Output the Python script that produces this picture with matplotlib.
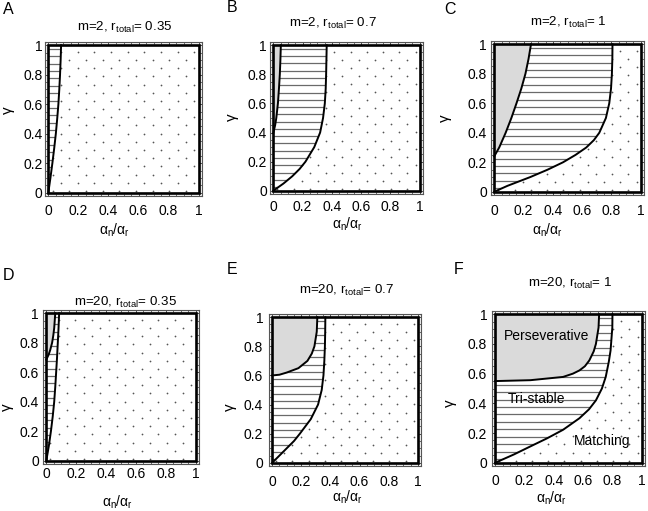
import numpy as np
import matplotlib
matplotlib.use("Agg")
import matplotlib.pyplot as plt
from matplotlib.patches import Polygon, Rectangle
from matplotlib.ticker import MultipleLocator

plt.rcParams['font.family'] = ['Liberation Sans', 'DejaVu Sans']
plt.rcParams['mathtext.fontset'] = 'custom'
plt.rcParams['mathtext.rm'] = 'Liberation Sans'
plt.rcParams['mathtext.it'] = 'Liberation Sans:italic'

# ---- data: boundary curves, (gamma, alpha_n/alpha_r) pairs ----
# g1: perseverative / tri-stable boundary ; g2: tri-stable / matching boundary
A_g1_gamma = []
A_g1_x = []
A_g2_gamma = [0.0, 0.1, 0.2, 0.3, 0.4, 0.5, 0.6, 0.7, 0.8, 0.9, 1.0]
A_g2_x = [0.0, 0.014, 0.027, 0.039, 0.05, 0.059, 0.067, 0.073, 0.078, 0.082, 0.085]

B_g1_gamma = [0.395, 0.45, 0.5, 0.6, 0.7, 0.8, 0.9, 1.0]
B_g1_x = [0.0, 0.013, 0.021, 0.032, 0.039, 0.045, 0.049, 0.052]
B_g2_gamma = [0.0, 0.05, 0.1, 0.15, 0.2, 0.3, 0.4, 0.5, 0.6, 0.7, 0.8, 0.9, 1.0]
B_g2_x = [0.0, 0.07, 0.13, 0.18, 0.22, 0.28, 0.32, 0.34, 0.352, 0.358, 0.361, 0.363, 0.365]

C_g1_gamma = [0.24, 0.3, 0.4, 0.5, 0.6, 0.7, 0.8, 0.9, 1.0]
C_g1_x = [0.0, 0.034, 0.078, 0.117, 0.152, 0.185, 0.213, 0.234, 0.251]
C_g2_gamma = [0.0, 0.04, 0.1, 0.15, 0.2, 0.25, 0.3, 0.35, 0.4, 0.5, 0.6, 0.7, 0.8, 0.9, 1.0]
C_g2_x = [0.0, 0.09, 0.247, 0.365, 0.47, 0.555, 0.628, 0.68, 0.717, 0.762, 0.785, 0.797, 0.803, 0.806, 0.807]

D_g1_gamma = [0.685, 0.72, 0.75, 0.8, 0.85, 0.9, 1.0]
D_g1_x = [0.0, 0.016, 0.026, 0.039, 0.047, 0.053, 0.06]
D_g2_gamma = [0.0, 0.1, 0.2, 0.3, 0.4, 0.5, 0.6, 0.7, 0.8, 0.9, 1.0]
D_g2_x = [0.0, 0.017, 0.031, 0.043, 0.053, 0.06, 0.066, 0.072, 0.077, 0.082, 0.086]

E_g1_gamma = [0.6, 0.605, 0.62, 0.65, 0.7, 0.75, 0.8, 0.9, 1.0]
E_g1_x = [0.0, 0.05, 0.10, 0.18, 0.242, 0.272, 0.29, 0.306, 0.31]
E_g2_gamma = [0.0, 0.05, 0.1, 0.15, 0.2, 0.3, 0.4, 0.5, 0.6, 0.7, 0.8, 0.9, 1.0]
E_g2_x = [0.0, 0.05, 0.10, 0.15, 0.19, 0.265, 0.315, 0.34, 0.352, 0.358, 0.362, 0.364, 0.365]

F_g1_gamma = [0.55, 0.556, 0.578, 0.6, 0.622, 0.65, 0.689, 0.75, 0.8, 0.91, 1.0]
F_g1_x = [0.0, 0.24, 0.463, 0.53, 0.575, 0.612, 0.642, 0.672, 0.687, 0.705, 0.709]
F_g2_gamma = [0.0, 0.056, 0.11, 0.165, 0.222, 0.3, 0.36, 0.42, 0.5, 0.578, 0.68, 0.756, 0.91, 1.0]
F_g2_x = [0.0, 0.128, 0.24, 0.355, 0.463, 0.575, 0.64, 0.687, 0.728, 0.754, 0.775, 0.787, 0.799, 0.8]

panels = [
    ("A", "m=2, r$_{\\mathrm{total}}$= 0.35", A_g1_gamma, A_g1_x, A_g2_gamma, A_g2_x),
    ("B", "m=2, r$_{\\mathrm{total}}$= 0.7", B_g1_gamma, B_g1_x, B_g2_gamma, B_g2_x),
    ("C", "m=2, r$_{\\mathrm{total}}$= 1", C_g1_gamma, C_g1_x, C_g2_gamma, C_g2_x),
    ("D", "m=20, r$_{\\mathrm{total}}$= 0.35", D_g1_gamma, D_g1_x, D_g2_gamma, D_g2_x),
    ("E", "m=20, r$_{\\mathrm{total}}$= 0.7", E_g1_gamma, E_g1_x, E_g2_gamma, E_g2_x),
    ("F", "m=20, r$_{\\mathrm{total}}$= 1", F_g1_gamma, F_g1_x, F_g2_gamma, F_g2_x),
]
tick_vals = [0, 0.2, 0.4, 0.6, 0.8, 1]
tick_labels = ["0", "0.2", "0.4", "0.6", "0.8", "1"]
region_labels = ["Perseverative", "Tri-stable", "Matching"]

# ---- layout (pixel positions) ----
W, H = 648, 511
fig = plt.figure(figsize=(W / 100, H / 100), dpi=100)

# axes frames: (left, top, right, bottom) in pixels
frames = [(45, 42, 202, 196), (270, 42, 423, 194), (491, 41, 644, 195),
          (43, 310, 199, 464), (269, 314, 421, 466), (492, 311, 645, 466)]
letter_pos = [(8, 10), (232, 8), (450, 10), (8, 275), (232, 270), (459, 270)]
title_pos = [(125, 27), (333, 23), (568, 22), (125, 302), (347, 290), (570, 283)]
xlabel_pos = [(115, 230), (348, 224), (548, 230), (118, 502), (348, 497), (552, 498)]
ylabel_pos = [(8, 110), (232, 117), (445, 118), (7, 407), (230, 407), (450, 403)]
xpad = [6.0, 4.5, 6.5, 2.5, 6.5, 6.0]
ypad = [1.8, 2.2, 2.8, 2.8, 4.2, 3.5]

def fx(px):
    return px / W

def fy(py):
    return 1 - py / H

grey_fill = "#dadada"
hatch_col = "#6a6a6a"
dot_col = "#555555"

# dot lattice (texture for the Matching region)
dot_pts = []
for j in range(19):
    xs = 0.028 + (j % 2) * 0.0555 + np.arange(10) * 0.111
    ys = np.full_like(xs, 0.012 + j * 0.0555)
    dot_pts.append(np.column_stack([xs, ys]))
dot_pts = np.vstack(dot_pts)
hatch_y = 0.025 + np.arange(20) * 0.05

for i, (letter, title, g1g, g1x, g2g, g2x) in enumerate(panels):
    l, t, r, b = frames[i]
    ax = fig.add_axes([fx(l), fy(b), fx(r) - fx(l), fy(t) - fy(b)])
    ax.set_xlim(-0.022, 1.022)
    ax.set_ylim(-0.022, 1.022)
    ax.set_facecolor("#efefef")

    g2 = list(zip(g2x, g2g))
    g1 = list(zip(g1x, g1g))

    # matching region (dots)
    match_poly = Polygon(g2 + [(1, 1), (1, 0)], closed=True, facecolor="white",
                         edgecolor="none", zorder=1)
    ax.add_patch(match_poly)
    sc = ax.scatter(dot_pts[:, 0], dot_pts[:, 1], s=1.6, color=dot_col,
                    linewidths=0, zorder=2)
    sc.set_clip_path(match_poly)

    # tri-stable region (horizontal lines)
    if g1:
        tri_pts = g2 + g1[::-1] + [(0, 0)]
    else:
        tri_pts = g2 + [(0, 1)]
    tri_poly = Polygon(tri_pts, closed=True, facecolor="white",
                       edgecolor="none", zorder=1)
    ax.add_patch(tri_poly)
    hl = ax.hlines(hatch_y, 0, 1, colors=hatch_col, linewidth=0.9, zorder=2)
    hl.set_clip_path(tri_poly)

    # perseverative region (grey)
    if g1:
        per_poly = Polygon([(0, g1g[0])] + g1 + [(0, 1)], closed=True,
                           facecolor=grey_fill, edgecolor="none", zorder=1)
        ax.add_patch(per_poly)
        ax.plot(g1x, g1g, color="black", lw=1.4, zorder=4,
                solid_joinstyle="round")
    ax.plot(g2x, g2g, color="black", lw=1.4, zorder=4, solid_joinstyle="round")

    # domain border
    ax.add_patch(Rectangle((0, 0), 1, 1, fill=False, edgecolor="black",
                           lw=1.9, zorder=5))

    ax.set_xticks(tick_vals)
    ax.set_xticklabels(tick_labels)
    ax.set_yticks(tick_vals)
    ax.set_yticklabels(tick_labels)
    ax.xaxis.set_minor_locator(MultipleLocator(0.05))
    ax.yaxis.set_minor_locator(MultipleLocator(0.05))
    ax.tick_params(which="both", direction="in", top=True, right=True,
                   color="#333333", labelsize=10)
    ax.tick_params(which="major", length=2.2, width=0.6)
    ax.tick_params(which="minor", length=1.4, width=0.5)
    ax.tick_params(axis="x", which="both", pad=xpad[i])
    ax.tick_params(axis="y", which="both", pad=ypad[i])
    for s in ax.spines.values():
        s.set_color("#555555")
        s.set_linewidth(0.8)

    fig.text(fx(letter_pos[i][0]), fy(letter_pos[i][1]), letter, fontsize=11.5,
             ha="center", va="center")
    fig.text(fx(title_pos[i][0]), fy(title_pos[i][1]), title, fontsize=9.6,
             ha="center", va="center")
    fig.text(fx(xlabel_pos[i][0]), fy(xlabel_pos[i][1]),
             "α$_{\\mathrm{n}}$/α$_{\\mathrm{r}}$", fontsize=10,
             ha="center", va="center")
    fig.text(fx(ylabel_pos[i][0]), fy(ylabel_pos[i][1]), "γ", fontsize=11,
             ha="center", va="center", rotation=90)

    if letter == "F":
        ax.text(0.35, 0.855, region_labels[0], fontsize=10, ha="center",
                va="center", zorder=6)
        ax.text(0.28, 0.43, region_labels[1], fontsize=10, ha="center",
                va="center", zorder=6)
        ax.text(0.73, 0.145, region_labels[2], fontsize=10, ha="center",
                va="center", zorder=6)

fig.savefig("out.png", dpi=100)
